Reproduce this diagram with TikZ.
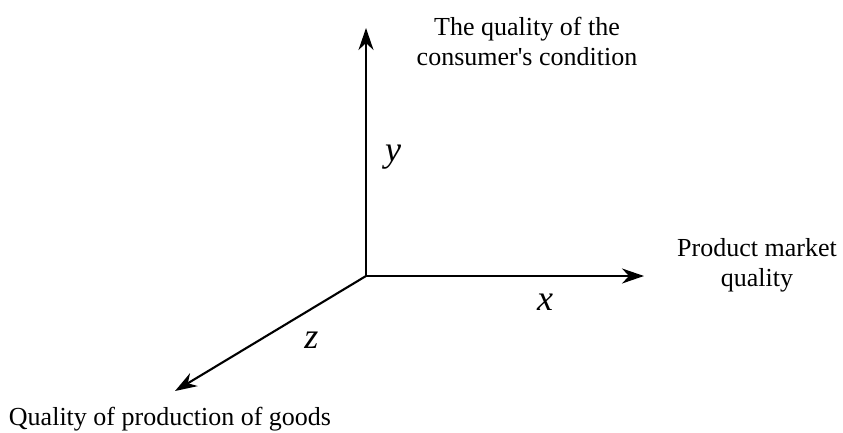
\documentclass[tikz,border=0pt]{standalone}
\usepackage{fontspec}
\setmainfont{Liberation Serif}
\usetikzlibrary{arrows.meta}
\begin{document}
\begin{tikzpicture}[x=1pt,y=-1pt,
  axis/.style={line width=2.1pt,-{Stealth[length=22pt,width=15pt,inset=7pt]}},
  lab/.style={font=\fontsize{26}{30}\selectfont,align=center,inner sep=0pt},
  var/.style={font=\fontsize{36}{36}\selectfont\itshape,inner sep=0pt}]
\useasboundingbox (0,0) rectangle (843,432);
\coordinate (o) at (366,276);
\coordinate (ye) at (366,28);
\coordinate (xe) at (644,276);
\coordinate (ze) at (175,391);
\draw[axis] (o) -- (ye);
\draw[axis] (o) -- (xe);
\draw[axis] (o) -- (ze);
\node[lab] (yl) at (527,41.5) {The quality of the\\consumer\textquotesingle s condition};
\node[lab] (xl) at (757,265.5) {Product market\\quality};
\node[lab,anchor=base] (zl) at (170,425) {Quality of production of goods};
\node[var] (yv) at (393,157) {y};
\node[var] (xv) at (545,302) {x};
\node[var] (zv) at (311.5,340) {z};
\end{tikzpicture}
\end{document}
